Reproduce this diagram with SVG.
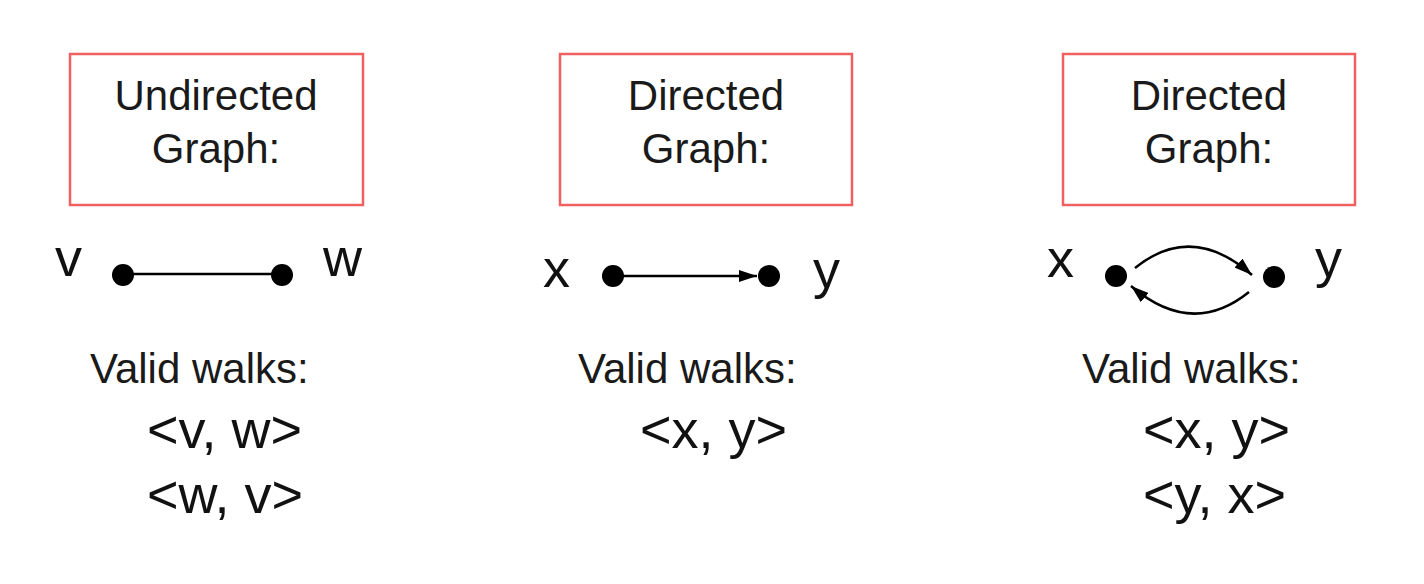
<svg xmlns="http://www.w3.org/2000/svg" width="1424" height="584" viewBox="0 0 1424 584">
<style>
.box{fill:#fff;stroke:#f06060;stroke-width:2.5}
.t{font-family:"Liberation Sans",Arial,sans-serif;font-size:42px;fill:#1a1a1a}
.big{font-size:54px;fill:#111}
.c{text-anchor:middle}
.dot{fill:#000}
.e{fill:none;stroke:#000;stroke-width:2.5}
</style>
<defs>
<marker id="ah" viewBox="0 0 18 12" refX="18" refY="6" markerWidth="18" markerHeight="12" markerUnits="userSpaceOnUse" orient="auto">
<path d="M0,0 L18,6 L0,12 z" fill="#000"/>
</marker>
</defs>
<rect width="1424" height="584" fill="#fff"/>
<g id="title1"><rect class="box" x="70" y="54" width="293" height="151"/>
<text class="t c" x="216" y="110">Undirected</text><text class="t c" x="216" y="163">Graph:</text></g>
<g id="title2"><rect class="box" x="560" y="54" width="292" height="151"/>
<text class="t c" x="706" y="110">Directed</text><text class="t c" x="706" y="163">Graph:</text></g>
<g id="title3"><rect class="box" x="1063" y="54" width="292" height="151"/>
<text class="t c" x="1209" y="110">Directed</text><text class="t c" x="1209" y="163">Graph:</text></g>
<g id="node-v"><circle class="dot" cx="123" cy="275" r="11"/><text class="t big" x="55" y="276">v</text></g>
<g id="node-w"><circle class="dot" cx="282" cy="275" r="11"/><text class="t big" x="323" y="276">w</text></g>
<g id="node-x2"><circle class="dot" cx="613" cy="276" r="11"/><text class="t big" x="543" y="287">x</text></g>
<g id="node-y2"><circle class="dot" cx="769" cy="276" r="11"/><text class="t big" x="813" y="288">y</text></g>
<g id="node-x3"><circle class="dot" cx="1116" cy="276" r="11"/><text class="t big" x="1047" y="277">x</text></g>
<g id="node-y3"><circle class="dot" cx="1274" cy="277" r="11"/><text class="t big" x="1315" y="277">y</text></g>
<g id="connectors">
<line class="e" x1="123" y1="274" x2="282" y2="274"/>
<line class="e" x1="613" y1="276" x2="757" y2="276" marker-end="url(#ah)"/>
<path class="e" d="M1135,268 Q1192,222 1252,275" marker-end="url(#ah)"/>
<path class="e" d="M1249,292 Q1192,338 1131,286" marker-end="url(#ah)"/>
</g>
<g id="walks1"><text class="t" x="90" y="383">Valid walks:</text>
<text class="t big" x="147" y="448">&lt;v, w&gt;</text><text class="t big" x="147" y="513">&lt;w, v&gt;</text></g>
<g id="walks2"><text class="t" x="578" y="383">Valid walks:</text>
<text class="t big" x="640" y="448">&lt;x, y&gt;</text></g>
<g id="walks3"><text class="t" x="1082" y="383">Valid walks:</text>
<text class="t big" x="1143" y="448">&lt;x, y&gt;</text><text class="t big" x="1143" y="513">&lt;y, x&gt;</text></g>
</svg>
